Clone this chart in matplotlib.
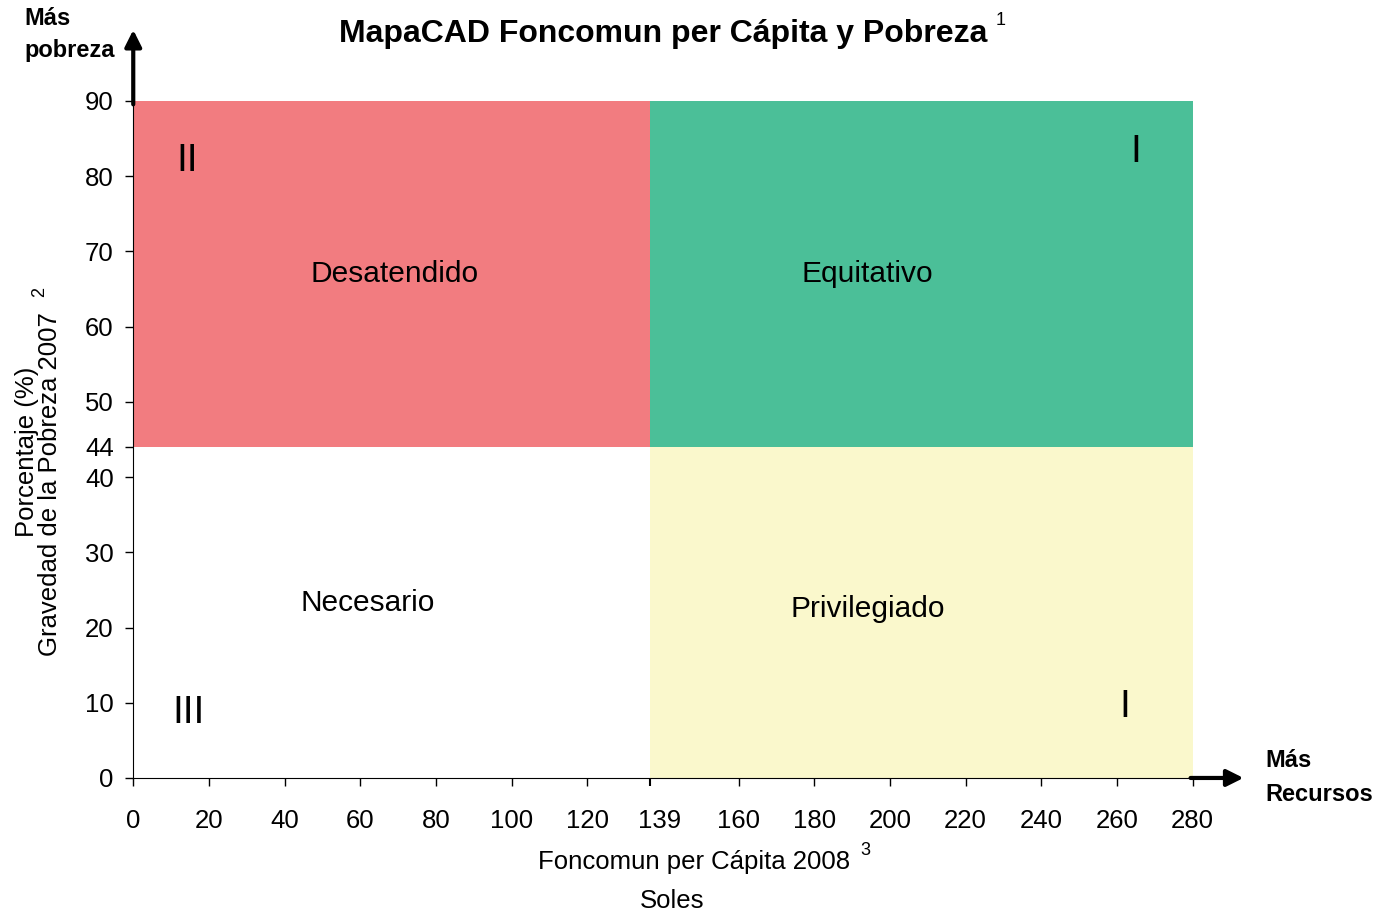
import matplotlib.pyplot as plt
from matplotlib.patches import Rectangle

plt.rcParams['font.family'] = ['Liberation Sans', 'DejaVu Sans']

# Data
x_split = 139          # label of the split
x_split_drawn = 136.6  # where the split line sits on the axis in the picture
y_split = 44
x_max = 280
y_max = 90
x_ticks = [0, 20, 40, 60, 80, 100, 120, 139, 160, 180, 200, 220, 240, 260, 280]
y_ticks = [0, 10, 20, 30, 40, 44, 50, 60, 70, 80, 90]

quad_names = ['Desatendido', 'Equitativo', 'Necesario', 'Privilegiado']
quad_label_x = [69, 194, 62, 194]
quad_label_y = [67.0, 67.0, 23.2, 22.5]
roman = ['II', 'I', 'III', 'I']
roman_x = [14.3, 265.0, 14.6, 262]
roman_y = [82.0, 83.2, 8.6, 9.4]

# quadrant rectangles: (x0, y0, x1, y1, color)
quads = [
    (0, y_split, x_split_drawn, y_max, '#F27C80'),
    (x_split_drawn, y_split, x_max, y_max, '#4BBF98'),
    (0, 0, x_split_drawn, y_split, '#FFFFFF'),
    (x_split_drawn, 0, x_max, y_split, '#FAF8CC'),
]

fig = plt.figure(figsize=(13.78, 9.13), dpi=100)
ax = fig.add_axes([0.0967, 0.1479, 0.7688, 0.7415])

for x0, y0, x1, y1, c in quads:
    ax.add_patch(Rectangle((x0, y0), x1 - x0, y1 - y0, facecolor=c, edgecolor='none', zorder=0))

for name, lx, ly in zip(quad_names, quad_label_x, quad_label_y):
    ax.text(lx, ly, name, ha='center', va='center', fontsize=21.5)
for r, rx, ry in zip(roman, roman_x, roman_y):
    ax.text(rx, ry, r, ha='center', va='center', fontsize=28)

ax.set_xlim(0, x_max)
ax.set_ylim(0, y_max)
ax.set_xticks(x_ticks)
ax.set_yticks(y_ticks)
# tick line of the split sits slightly left of its label
ax.xaxis.get_major_ticks()[x_ticks.index(x_split)].tick1line.set_visible(False)
ax.set_xticks([x_split_drawn], minor=True)
ax.tick_params(axis='x', which='minor', length=6, width=1.5, color='black')
ax.tick_params(labelsize=18.5, length=6, width=1, colors='black')
ax.tick_params(axis='x', which='major', pad=16)
ax.tick_params(axis='y', pad=8)
ax.spines['top'].set_visible(False)
ax.spines['right'].set_visible(False)

# arrows on the axes ends
ax.annotate('', xy=(0, 1.105), xytext=(0, 0.995), xycoords='axes fraction',
            arrowprops=dict(arrowstyle='-|>', lw=3, color='black', mutation_scale=25,
                            shrinkA=0, shrinkB=0))
ax.annotate('', xy=(1.048, 0), xytext=(0.998, 0), xycoords='axes fraction',
            arrowprops=dict(arrowstyle='-|>', lw=3, color='black', mutation_scale=25,
                            shrinkA=0, shrinkB=0))

fig.text(0.481, 0.963, 'MapaCAD Foncomun per Cápita y Pobreza', ha='center', va='center',
         fontsize=23, fontweight='bold')
fig.text(0.7265, 0.978, '1', ha='center', va='center', fontsize=13)

fig.text(0.0174, 0.980, 'Más', ha='left', va='center', fontsize=17, fontweight='bold')
fig.text(0.0174, 0.945, 'pobreza', ha='left', va='center', fontsize=17, fontweight='bold')
fig.text(0.918, 0.167, 'Más', ha='left', va='center', fontsize=17, fontweight='bold')
fig.text(0.918, 0.130, 'Recursos', ha='left', va='center', fontsize=17, fontweight='bold')

fig.text(0.504, 0.056, 'Foncomun per Cápita 2008', ha='center', va='center', fontsize=18.5)
fig.text(0.628, 0.068, '3', ha='center', va='center', fontsize=13)
fig.text(0.488, 0.013, 'Soles', ha='center', va='center', fontsize=18.5)

fig.text(0.0195, 0.505, 'Porcentaje (%)', rotation=90, ha='center', va='center', fontsize=18.5)
fig.text(0.0365, 0.47, 'Gravedad de la Pobreza 2007', rotation=90, ha='center', va='center', fontsize=18.5)
fig.text(0.029, 0.680, '2', rotation=90, ha='center', va='center', fontsize=13)

fig.savefig('out.png', dpi=100)
